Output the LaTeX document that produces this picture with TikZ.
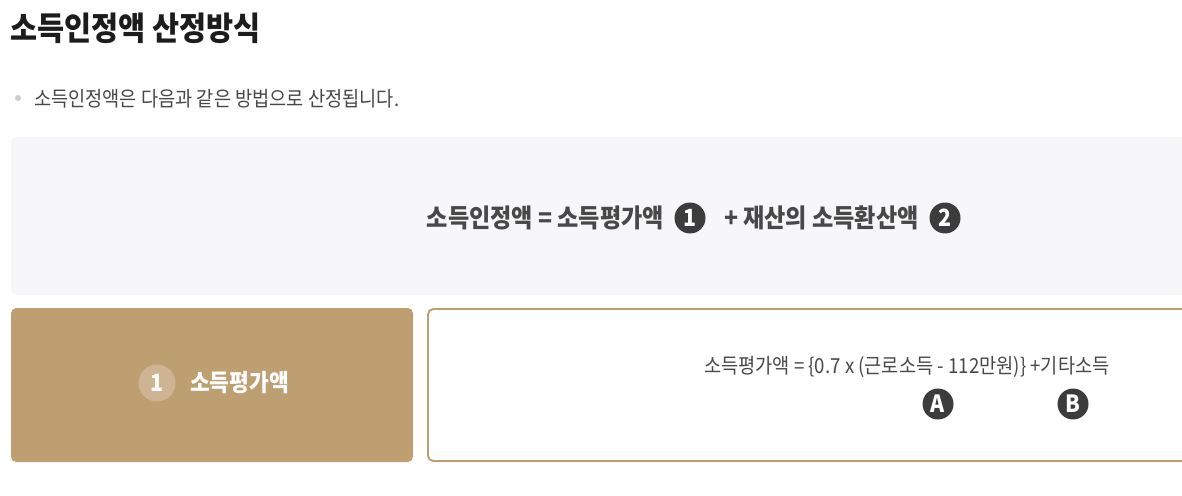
\documentclass[tikz,border=0pt]{standalone}
\usepackage{fontspec}
\setmainfont[FakeStretch=0.9]{Noto Sans CJK KR}
\usetikzlibrary{positioning}

\definecolor{tan}{HTML}{BD9F72}
\definecolor{tanlight}{HTML}{CDB594}
\definecolor{panel}{HTML}{F7F7F9}
\definecolor{ink}{HTML}{1C1C1C}
\definecolor{textgray}{HTML}{484848}
\definecolor{dot}{HTML}{3C3C3C}

\begin{document}
\begin{tikzpicture}[x=0.02cm, y=-0.02cm, every node/.style={inner sep=1pt},
  num/.style={circle, fill=dot, text=white, minimum size=0.62cm, inner sep=0pt, font=\fontsize{13.5}{13.5}\selectfont\bfseries},
  box/.style={rounded corners=3pt}]
\clip (0,0) rectangle (1182,496);
% heading
\node[anchor=west, text=ink, font=\fontsize{18.6}{20}\selectfont\bfseries] (title) at (8,28) {소득인정액 산정방식};
\fill[gray!40] (18,98) circle (3);
\node[anchor=west, text=textgray, font=\fontsize{11.8}{13}\selectfont] (intro) at (32,99) {소득인정액은 다음과 같은 방법으로 산정됩니다.};
% top panel
\fill[panel, box] (11,137) rectangle (1210,295);
\node[anchor=east, text=textgray, font=\fontsize{14.6}{16}\selectfont\bfseries] (f1) at (666,218) {소득인정액 = 소득평가액};
\node[num] (n1) at (690,218) {1};
\node[anchor=west, text=textgray, font=\fontsize{14.6}{16}\selectfont\bfseries] (f2) at (722,218) {+ 재산의 소득환산액};
\node[num] (n2) at (945,218) {2};
% bottom row
\fill[tan, box] (11,308) rectangle (413,462);
\node[circle, fill=tanlight, text=white, minimum size=0.74cm, inner sep=0pt, font=\fontsize{13.5}{13.5}\selectfont\bfseries] (m1) at (157,383) {1};
\node[anchor=west, text=white, font=\fontsize{13.6}{15}\selectfont\bfseries] (lbl) at (188,383) {소득평가액};
\draw[tan, line width=1.1pt, box] (428,309) rectangle (1210,461);
\node[anchor=west, text=textgray, font=\fontsize{11.8}{13}\selectfont] (f3) at (702,367) {소득평가액 = \{0.7 x (근로소득 - 112만원)\} +기타소득};
\node[num] (na) at (938,404) {A};
\node[num] (nb) at (1073,404) {B};
\end{tikzpicture}
\end{document}
